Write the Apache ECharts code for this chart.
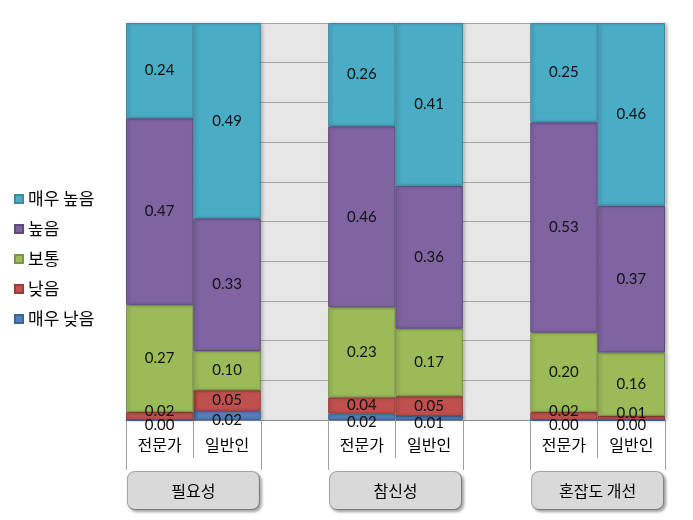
<!DOCTYPE html>
<html>
<head>
<meta charset="utf-8">
<script src="https://cdn.jsdelivr.net/npm/echarts@6/dist/echarts.min.js"></script>
<style>
html,body{margin:0;padding:0;background:#fff;}
#chart{width:693px;height:520px;}
</style>
</head>
<body>
<div id="chart"></div>
<script>
const categories = ['전문가', '일반인', '', '전문가', '일반인', '', '전문가', '일반인'];
const groups = ['필요성', '참신성', '혼잡도 개선'];
const seriesNames = ['매우 낮음', '낮음', '보통', '높음', '매우 높음'];
const veryLow  = [0.00, 0.023, '-', 0.016, 0.01, '-', 0.00, 0.00];
const low      = [0.02, 0.052, '-', 0.041, 0.05, '-', 0.02, 0.01];
const mid      = [0.27, 0.099, '-', 0.227, 0.17, '-', 0.20, 0.16];
const high     = [0.47, 0.334, '-', 0.456, 0.36, '-', 0.53, 0.37];
const veryHigh = [0.24, 0.492, '-', 0.26, 0.41, '-', 0.25, 0.46];
const yTicks = [0, 0.1, 0.2, 0.3, 0.4, 0.5, 0.6, 0.7, 0.8, 0.9, 1];

const colors = ['#4F81BD', '#C0504D', '#9BBB59', '#8064A2', '#4BACC6'];
const borders = ['#3b659a', '#9a3c3a', '#7a9545', '#5f4a7e', '#3a8aa0'];
const values = [veryLow, low, mid, high, veryHigh];

const font = '"Noto Sans CJK KR", "Noto Sans", sans-serif';
const numFont = 'Lato, "Noto Sans", sans-serif';

const groupCenters = groups.map((g, i) => 3 * i + 1);
const groupEdges = [];
groups.forEach((g, i) => { groupEdges.push(3 * i, 3 * i + 2); });

const series = values.map((vals, si) => ({
  name: seriesNames[si],
  type: 'bar',
  stack: 'total',
  xAxisIndex: 0,
  barWidth: '100%',
  barCategoryGap: '0%',
  itemStyle: {
    color: colors[si],
    borderColor: borders[si],
    borderWidth: 1,
    shadowColor: 'rgba(0,0,0,0.25)',
    shadowBlur: 3,
    shadowOffsetX: 2
  },
  label: {
    show: true,
    position: 'inside',
    color: '#111',
    fontSize: 15,
    fontFamily: numFont,
    formatter: p => Number(p.value).toFixed(2)
  },
  data: vals.map(v => {
    if (v === '-') return v;
    let off = [0, 0];
    if (si === 0) off = [0, 5];
    else if (si === 1 && v < 0.03) off = [0, -5];
    return { value: v, label: { offset: off } };
  })
}));

const chart = echarts.init(document.getElementById('chart'));
chart.setOption({
  backgroundColor: '#fff',
  animation: false,
  legend: {
    orient: 'vertical',
    left: 9,
    top: 185,
    itemGap: 12,
    itemWidth: 8,
    itemHeight: 8,
    icon: 'rect',
    data: seriesNames.slice().reverse(),
    textStyle: { fontSize: 17, color: '#000', fontFamily: font, lineHeight: 18 }
  },
  grid: {
    left: 126, right: 28, top: 23, bottom: 100,
    show: true, backgroundColor: '#e6e6e6', borderWidth: 0
  },
  xAxis: [
    {
      type: 'category',
      data: categories,
      axisLine: { show: true, lineStyle: { color: '#8c8c8c' } },
      axisTick: { show: true, length: 38, lineStyle: { color: '#a0a0a0' } },
      axisLabel: { margin: 17, fontSize: 16, color: '#000', fontFamily: font }
    },
    {
      type: 'value',
      min: 0,
      max: categories.length,
      position: 'bottom',
      splitLine: { show: false },
      axisLine: { show: false },
      axisTick: { show: true, customValues: groupEdges.concat([categories.length]), length: 50, lineStyle: { color: '#a0a0a0' } },
      axisLabel: {
        customValues: groupCenters,
        formatter: v => groups[groupCenters.indexOf(v)] || '',
        margin: 52,
        fontSize: 16,
        color: '#000',
        fontFamily: font,
        backgroundColor: '#d9d9d9',
        borderColor: '#a6a6a6',
        borderWidth: 1,
        borderRadius: 7,
        width: 131,
        height: 37,
        lineHeight: 37,
        align: 'center',
        verticalAlign: 'top',
        shadowColor: 'rgba(0,0,0,0.3)',
        shadowBlur: 3,
        shadowOffsetX: 2,
        shadowOffsetY: 2
      }
    }
  ],
  yAxis: {
    type: 'value',
    min: yTicks[0],
    max: yTicks[yTicks.length - 1],
    interval: 0.1,
    axisLabel: { show: false },
    axisLine: { show: false },
    axisTick: { show: false },
    splitLine: { show: true, lineStyle: { color: '#a6a6a6', width: 1 } }
  },
  series: series
});
</script>
</body>
</html>
